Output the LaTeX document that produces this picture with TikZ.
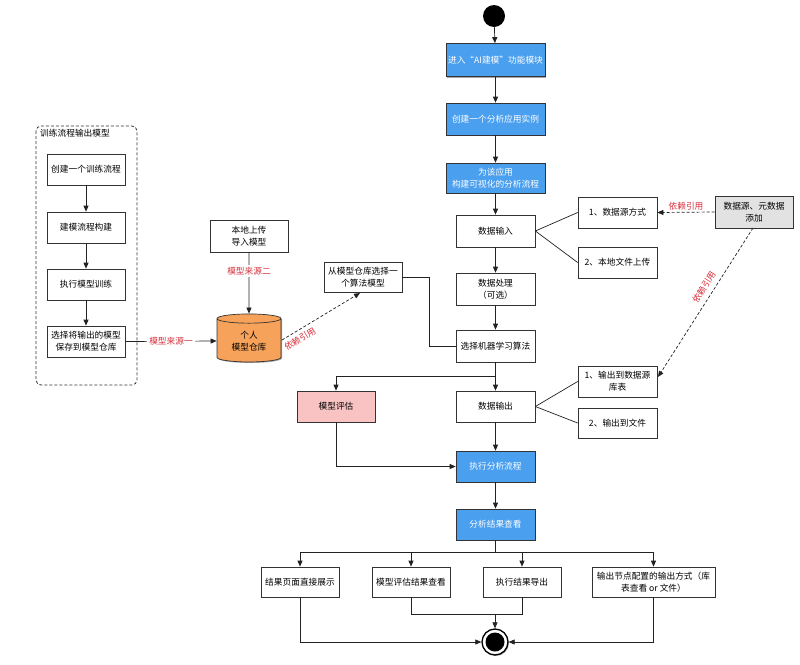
\documentclass[tikz,border=0pt]{standalone}
\usepackage{fontspec}
\setmainfont{Noto Sans CJK SC}
\usetikzlibrary{arrows.meta,shapes.geometric,shadows}
\definecolor{bluefill}{HTML}{4A9FEF}
\definecolor{orangefill}{HTML}{F6A25A}
\definecolor{pinkfill}{HTML}{F9C3C3}
\definecolor{greyfill}{HTML}{E2E2E2}
\definecolor{boxline}{HTML}{333333}
\definecolor{linecol}{HTML}{222222}
\definecolor{labred}{HTML}{D6303C}
\newcommand\myfs{\fontsize{8.7}{12}\selectfont}
\begin{document}
\begin{tikzpicture}[x=1pt,y=-1pt,
  shd/.style={drop shadow={shadow xshift=1pt,shadow yshift=-1pt,opacity=0.35,fill=black}},
  box/.style={draw=boxline, line width=0.7pt, fill=white, minimum width=79pt, minimum height=31pt, align=center, inner sep=2pt, font=\myfs, shd},
  bluebox/.style={box, fill=bluefill, text=white},
  arr/.style={-{Triangle[length=6pt,width=5pt]}, line width=0.7pt, draw=linecol},
  ln/.style={line width=0.7pt, draw=linecol},
  dep/.style={arr, dash pattern=on 3pt off 2pt},
  lab/.style={text=labred, font=\myfs, inner sep=1pt}
]
\useasboundingbox (0,0) rectangle (800,664);
\fill[white] (0,0) rectangle (800,664);

% main column
\node[circle, fill=black, minimum size=22pt, inner sep=0pt] (start) at (494,16) {};
\node[bluebox, minimum width=99pt, minimum height=33pt] (n1) at (495.5,60) {进入“AI建模”功能模块};
\node[bluebox, minimum width=99pt, minimum height=32pt] (n2) at (495.5,119) {创建一个分析应用实例};
\node[bluebox, minimum width=99pt, minimum height=30pt] (n3) at (495.5,178) {为该应用\\构建可视化的分析流程};
\node[box, minimum height=32pt] (din) at (495.5,231) {数据输入};
\node[box, minimum height=32pt] (dproc) at (495.5,289) {数据处理\\（可选）};
\node[box, minimum height=32pt] (ml) at (495.5,346) {选择机器学习算法};
\node[box] (src1) at (617.5,212.5) {1、数据源方式};
\node[box] (src2) at (617.5,262.5) {2、本地文件上传};
\node[box, fill=greyfill, minimum width=78pt, minimum height=32pt] (meta) at (754,212) {数据源、元数据\\添加};
\node[box] (dout) at (495.5,406.5) {数据输出};
\node[box, fill=pinkfill, minimum width=78pt] (eval) at (336,406.5) {模型评估};
\node[box] (out1) at (617.5,381.5) {1、输出到数据源\\库表};
\node[box, minimum height=30pt] (out2) at (617.5,423) {2、输出到文件};
\node[bluebox, minimum width=79pt] (exec) at (495.5,466.5) {执行分析流程};
\node[bluebox, minimum width=79pt] (view) at (495.5,524.5) {分析结果查看};
\node[box, minimum width=78pt, minimum height=30pt] (r1) at (300,582) {结果页面直接展示};
\node[box, minimum width=78pt, minimum height=30pt] (r2) at (411,582) {模型评估结果查看};
\node[box, minimum width=78pt, minimum height=30pt] (r3) at (522,582) {执行结果导出};
\node[box, minimum width=123pt, minimum height=30pt] (r4) at (653.5,582) {输出节点配置的输出方式（库\\表查看 or 文件）};
\node[circle, draw=black, line width=1.3pt, fill=white, minimum size=26pt, inner sep=0pt, shd] (end) at (495,642) {};
\fill[black] (end.center) circle[radius=9.5pt];

% left container
\draw[line width=0.8pt, draw=boxline, dash pattern=on 3pt off 2pt, rounded corners=5pt] (36,126) rectangle (137,385);
\node[font=\myfs, anchor=west, inner sep=0pt] (tl) at (40,133) {训练流程输出模型};
\node[box, minimum width=78pt] (t1) at (86,169.5) {创建一个训练流程};
\node[box, minimum width=78pt] (t2) at (86,227.5) {建模流程构建};
\node[box, minimum width=78pt] (t3) at (86,284.5) {执行模型训练};
\node[box, minimum width=78pt] (t4) at (86,341.5) {选择将输出的模型\\保存到模型仓库};

\node[box, minimum width=78pt, minimum height=32pt] (upload) at (249,236) {本地上传\\导入模型};
\node[cylinder, shape border rotate=90, aspect=0.25, draw=boxline, line width=0.7pt, fill=orangefill, minimum width=64pt, minimum height=48pt, align=center, font=\myfs, inner sep=1pt, shd] (repo) at (249,341) {个人\\模型仓库};
\node[box, minimum width=78pt, minimum height=30pt] (pick) at (363,277) {从模型仓库选择一\\个算法模型};

% connectors main
\draw[arr] (start) -- (n1);
\draw[arr] (n1) -- (n2);
\draw[arr] (n2) -- (n3);
\draw[arr] (n3) -- (din);
\draw[arr] (din) -- (dproc);
\draw[arr] (dproc) -- (ml);
\draw[ln] (din.east) -- (src1.west);
\draw[ln] (din.east) -- (src2.west);
\draw[dep] (meta.west) -- (src1.east) node[lab, midway, above=1pt] {依赖引用};
\coordinate (metab) at (753,228);
\coordinate (out1r) at (658,377);
\draw[dep] (metab) -- (out1r);
\node[lab, rotate=57.5] (deplab2) at (704,287) {依赖引用};

\coordinate (j1) at (495.5,376);
\draw[arr] (ml) -- (dout);
\draw[arr] (j1) -| (eval.north);
\draw[ln] (dout.east) -- (out1.west);
\draw[ln] (dout.east) -- (out2.west);
\draw[arr] (dout) -- (exec);
\draw[arr] (eval.south) |- (exec.west);
\draw[arr] (exec) -- (view);

\coordinate (j2) at (495.5,552);
\draw[ln] (view) -- (j2);
\draw[ln] (300,552) -- (653.5,552);
\draw[arr] (j2) -| (r1.north);
\draw[arr] (j2) -| (r2.north);
\draw[arr] (j2) -| (r3.north);
\draw[arr] (j2) -| (r4.north);
\draw[arr] (r1.south) |- (end.west);
\draw[arr] (r4.south) |- (end.east);
\coordinate (j3) at (495,614);
\draw[ln] (r2.south) |- (j3);
\draw[ln] (r3.south) |- (j3);
\draw[arr] (j3) -- (end.north);

% left connectors
\draw[arr] (t1) -- (t2);
\draw[arr] (t2) -- (t3);
\draw[arr] (t3) -- (t4);
\draw[arr] (t4.east) -- (repo.west) node[lab, midway, fill=white, inner sep=2pt] {模型来源一};
\draw[arr] (upload) -- (repo.north) node[lab, pos=0.3, fill=white, inner sep=2pt] {模型来源二};
\coordinate (repor) at (282,340);
\coordinate (pickb) at (360,293);
\draw[dep] (repor) -- (pickb);
\node[lab, rotate=31] (deplab3) at (300,339) {依赖引用};
\coordinate (k1) at (429,277);
\draw[ln] (pick.east) -- (k1) |- (ml.west);
\end{tikzpicture}
\end{document}
